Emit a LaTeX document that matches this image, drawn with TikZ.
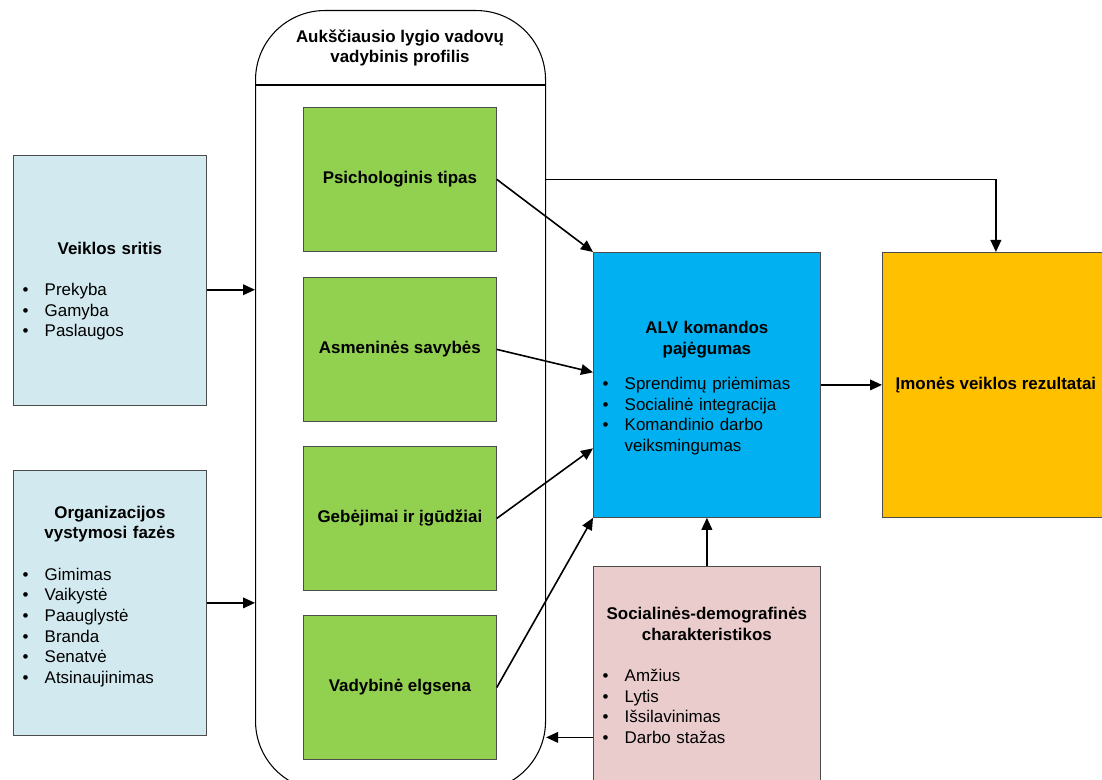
\documentclass[tikz,border=0pt]{standalone}
\usepackage{fontspec}
\setmainfont{Liberation Sans}
\usetikzlibrary{positioning,arrows.meta}
\definecolor{lblue}{RGB}{210,233,239}
\definecolor{lgreen}{RGB}{146,208,80}
\definecolor{cyanbox}{RGB}{0,176,240}
\definecolor{amber}{RGB}{255,192,0}
\definecolor{rose}{RGB}{234,204,204}
\newcommand{\topgap}[1]{\par\vspace*{#1}}
\newcommand{\ttl}[2][\baselineskip]{{\centering\bfseries #2\par}\vspace{#1}}
\newcommand{\itm}[1]{\par\noindent\makebox[16.5pt][l]{\textbullet}#1}
\newcommand{\cont}[1]{\par\noindent\hspace*{16.5pt}#1}
\tikzset{
  txt/.style={font=\fontsize{12.7}{15.5}\selectfont},
  btxt/.style={font=\fontsize{12.7}{15.5}\selectfont\bfseries},
  box/.style={txt,draw=black!70,line width=0.6pt,anchor=north west,inner xsep=7pt,inner ysep=0pt,align=left},
  lbox/.style={box,fill=lblue,text width=130.75pt,minimum height=#1},
  gbox/.style={box,btxt,fill=lgreen,minimum width=144.75pt,minimum height=108pt,align=center},
  cbox/.style={box,fill=cyanbox,text width=156.25pt,minimum height=198.75pt},
  rbox/.style={box,btxt,fill=amber,minimum width=170.25pt,minimum height=198.75pt,align=center},
  sbox/.style={box,fill=rose,text width=156.25pt,minimum height=163.5pt},
  arr/.style={-{Triangle[length=9pt,width=8pt]},line width=1.2pt}
}

\begin{document}
\begin{tikzpicture}[x=0.75pt,y=-0.75pt]
  \path[use as bounding box,clip] (0,0) rectangle (1102,780);
  % container with header
  \node[draw,line width=0.8pt,rounded corners=52pt,minimum width=217.5pt,minimum height=585pt,anchor=north west,inner sep=0pt] (profilis) at (255,10) {};
  \draw[line width=0.8pt] (profilis.west |- 0,85) -- (profilis.east |- 0,85);
  \node[btxt,align=center] (antraste) at (400,48) {Aukščiausio lygio vadovų\\vadybinis profilis};
  % left boxes
  \node[lbox=187.5pt] (veikla) at (13,155) {\topgap{10pt}\ttl{Veiklos sritis}\itm{Prekyba}\itm{Gamyba}\itm{Paslaugos}};
  \node[lbox=198.75pt] (fazes) at (13,470) {\topgap{-16pt}\ttl{Organizacijos\\vystymosi fazės}\itm{Gimimas}\itm{Vaikystė}\itm{Paauglystė}\itm{Branda}\itm{Senatvė}\itm{Atsinaujinimas}};
  % profile boxes
  \node[gbox] (psich) at (303,107) {Psichologinis tipas};
  \node[gbox] (asmen) at (303,277) {Asmeninės savybės};
  \node[gbox] (geb) at (303,446) {Gebėjimai ir įgūdžiai};
  \node[gbox] (vad) at (303,615) {Vadybinė elgsena};
  % right part
  \node[cbox] (alv) at (593,252) {\topgap{-1.5pt}\ttl[11pt]{ALV komandos\\pajėgumas}\itm{Sprendimų priėmimas}\itm{Socialinė integracija}\itm{Komandinio darbo}\cont{veiksmingumas}};
  \node[rbox] (rez) at (882,252) {Įmonės veiklos rezultatai};
  \node[sbox] (soc) at (593,566) {\ttl{\mbox{Socialinės-demografinės}\\charakteristikos}\itm{Amžius}\itm{Lytis}\itm{Išsilavinimas}\itm{Darbo stažas}};
  % arrows
  \draw[arr] ([yshift=-7pt]veikla.east) -- ([yshift=-7pt]veikla.east -| profilis.west);
  \draw[arr] (fazes.east) -- (fazes.east -| profilis.west);
  \draw[arr] (psich.east) -- (alv.north west);
  \draw[arr] (asmen.east) -- ([yshift=9.4pt]alv.west);
  \draw[arr] (geb.east) -- ([yshift=-47.6pt]alv.west);
  \draw[arr] (vad.east) -- (alv.south west);
  \draw[arr] (profilis.east |- psich.east) -| (rez.north);
  \draw[arr] (alv.east) -- (alv.east -| rez.west);
  \draw[arr] (soc.north) -- (alv.south);
  \draw[arr] ([yshift=-46.5pt]soc.west) -- ([yshift=-46.5pt]soc.west -| profilis.east);
\end{tikzpicture}
\end{document}
